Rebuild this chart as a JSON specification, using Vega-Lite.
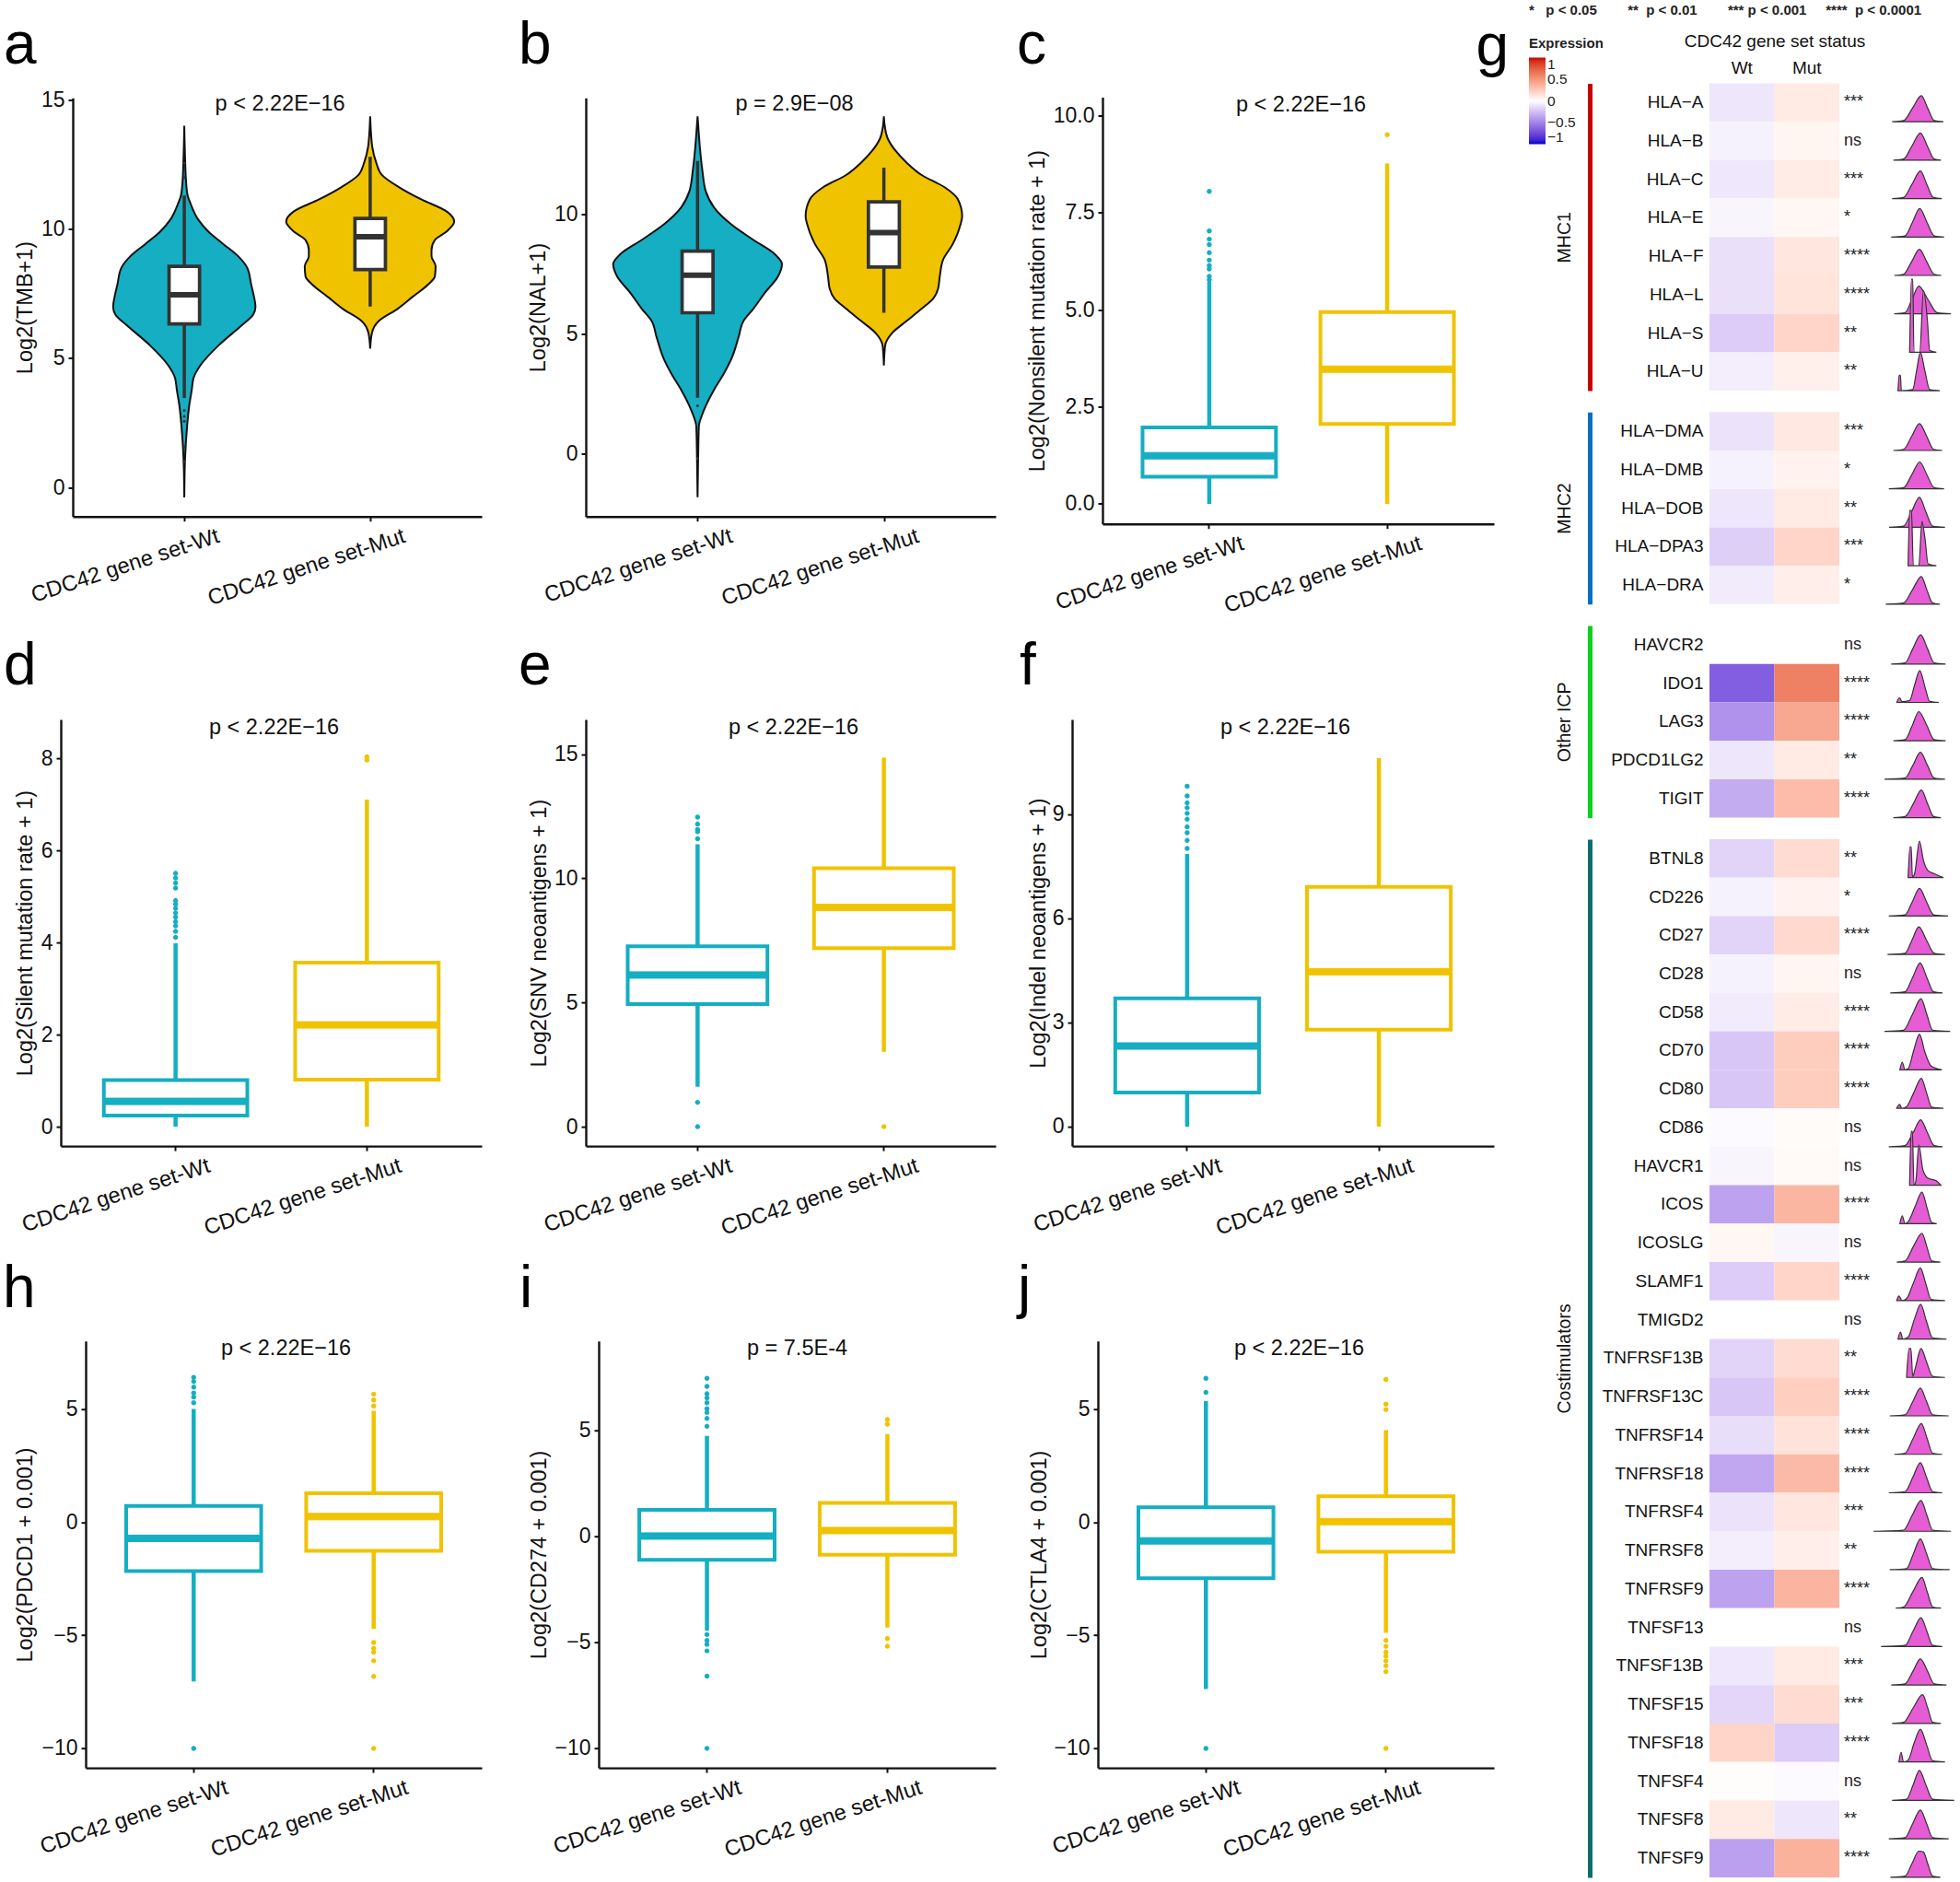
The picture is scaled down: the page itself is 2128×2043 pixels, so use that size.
{"$schema":"https://vega.github.io/schema/vega-lite/v6.json","background":"white","padding":{"left":3,"top":3.5,"right":0,"bottom":0},
"config":{"font":"Liberation Sans","view":{"stroke":null},"range":{"category":["#15AEC2","#F0C300"]},"title":{"anchor":"start","frame":"group","fontSize":64,"fontWeight":"normal","baseline":"alphabetic","color":"#000"},
"axis":{"grid":false,"domainColor":"#111","domainWidth":2.4,"tickColor":"#111","tickWidth":2,"tickSize":5,"labelFontSize":23,"titleFontSize":23.5,"titleFontWeight":"normal","labelColor":"#111","titleColor":"#111","labelOverlap":false,"labelBound":false,"labelFlush":false,"labelLimit":0},
"axisX":{"labelAngle":-18,"labelAlign":"right","labelBaseline":"top","labelOffset":33,"labelPadding":4,"labelFontSize":23.8,"titleAlign":"center","titleBaseline":"middle"},
"axisY":{"titleBaseline":"middle","labelPadding":4}},
"spacing":-20,
"resolve":{"scale":{"color":"independent","stroke":"independent"}},
"hconcat":[
{"resolve":{"scale":{"color":"independent","stroke":"independent"}},"concat":[
{"width":487,"height":478.2,"title":{"text":"a","dx":-62,"offset":8.8},
"data":{"values":[{"p":1,"b0":0.918,"b1":1.082,"q1":6.33,"med":7.46,"q3":8.56,"lo":3.46,"hi":11.3},{"p":2,"b0":1.918,"b1":2.082,"q1":8.43,"med":9.7,"q3":10.41,"lo":7.0,"hi":12.8}]},
"layer":[
{"data":{"values":[{"p":1,"y":-0.39,"x0":1,"x1":1},{"p":1,"y":1.1,"x0":0.996,"x1":1.004},{"p":1,"y":2.36,"x0":0.985,"x1":1.015},{"p":1,"y":3.14,"x0":0.974,"x1":1.026},{"p":1,"y":3.77,"x0":0.96,"x1":1.04},{"p":1,"y":4.24,"x0":0.95,"x1":1.05},{"p":1,"y":4.71,"x0":0.915,"x1":1.085},{"p":1,"y":5.5,"x0":0.815,"x1":1.185},{"p":1,"y":6.28,"x0":0.69,"x1":1.31},{"p":1,"y":6.68,"x0":0.63,"x1":1.37},{"p":1,"y":6.99,"x0":0.617,"x1":1.383},{"p":1,"y":7.38,"x0":0.625,"x1":1.375},{"p":1,"y":7.85,"x0":0.64,"x1":1.36},{"p":1,"y":8.48,"x0":0.66,"x1":1.34},{"p":1,"y":8.95,"x0":0.71,"x1":1.29},{"p":1,"y":9.42,"x0":0.79,"x1":1.21},{"p":1,"y":9.9,"x0":0.87,"x1":1.13},{"p":1,"y":10.37,"x0":0.925,"x1":1.075},{"p":1,"y":11,"x0":0.967,"x1":1.033},{"p":1,"y":11.3,"x0":0.982,"x1":1.018},{"p":1,"y":11.9,"x0":0.991,"x1":1.009},{"p":1,"y":12.56,"x0":0.995,"x1":1.005},{"p":1,"y":14,"x0":1,"x1":1},
{"p":2,"y":5.37,"x0":2,"x1":2},{"p":2,"y":5.97,"x0":1.991,"x1":2.009},{"p":2,"y":6.44,"x0":1.954,"x1":2.046},{"p":2,"y":6.91,"x0":1.853,"x1":2.147},{"p":2,"y":7.38,"x0":1.771,"x1":2.229},{"p":2,"y":7.85,"x0":1.689,"x1":2.311},{"p":2,"y":8.17,"x0":1.652,"x1":2.348},{"p":2,"y":8.56,"x0":1.648,"x1":2.352},{"p":2,"y":8.95,"x0":1.67,"x1":2.33},{"p":2,"y":9.19,"x0":1.67,"x1":2.33},{"p":2,"y":9.58,"x0":1.652,"x1":2.348},{"p":2,"y":9.9,"x0":1.59,"x1":2.41},{"p":2,"y":10.29,"x0":1.548,"x1":2.452},{"p":2,"y":10.68,"x0":1.588,"x1":2.412},{"p":2,"y":11.15,"x0":1.725,"x1":2.275},{"p":2,"y":11.62,"x0":1.844,"x1":2.156},{"p":2,"y":12.09,"x0":1.936,"x1":2.064},{"p":2,"y":12.56,"x0":1.967,"x1":2.033},{"p":2,"y":13.19,"x0":1.989,"x1":2.011},{"p":2,"y":13.66,"x0":1.995,"x1":2.005},{"p":2,"y":14.37,"x0":2,"x1":2}]},
"mark":{"type":"area","orient":"horizontal","interpolate":"monotone","stroke":"#111","strokeWidth":2},
"encoding":{"y":{"field":"y","type":"quantitative","scale":{"domain":[-1.13,15.08],"range":[470.2,15.8],"nice":false},"axis":{"title":"Log2(TMB+1)","titleX":-51.5,"offset":-13,"values":[0,5,10,15]}},"x":{"field":"x0","type":"quantitative","stack":null,"scale":{"domain":[0.4,2.6],"range":[13,457],"nice":false},"axis":{"values":[1,2],"labelExpr":"datum.value==1?'CDC42 gene set-Wt':'CDC42 gene set-Mut'","offset":-8,"title":"p < 2.22E−16","titleX":237.6,"titleY":-448}},"x2":{"field":"x1"},"color":{"field":"p","type":"nominal","legend":null}}},
{"mark":{"type":"rule","strokeWidth":3.5,"color":"#333"},"encoding":{"x":{"field":"p","type":"quantitative"},"y":{"field":"lo","type":"quantitative"},"y2":{"field":"hi"}}},
{"mark":{"type":"rect","fill":"white","stroke":"#333","strokeWidth":3.7},"encoding":{"x":{"field":"b0","type":"quantitative"},"x2":{"field":"b1"},"y":{"field":"q1","type":"quantitative"},"y2":{"field":"q3"}}},
{"mark":{"type":"rule","strokeWidth":6,"color":"#333"},"encoding":{"x":{"field":"b0","type":"quantitative"},"x2":{"field":"b1"},"y":{"field":"med","type":"quantitative"}}},
{"data":{"values":[{"p":1,"y":2.98},{"p":1,"y":2.75},{"p":1,"y":2.56},{"p":1,"y":1.57},{"p":1,"y":1.0},{"p":1,"y":12.0},{"p":1,"y":12.56}]},"mark":{"type":"circle","size":9,"color":"#333","opacity":1},"encoding":{"x":{"field":"p","type":"quantitative"},"y":{"field":"y","type":"quantitative"}}}
]},
{"width":445,"height":478.2,"title":{"text":"b","dx":-73,"offset":8.8},
"data":{"values":[{"p":1,"b0":0.917,"b1":1.083,"q1":5.89,"med":7.46,"q3":8.46,"lo":2.34,"hi":12.23},{"p":2,"b0":1.917,"b1":2.083,"q1":7.8,"med":9.24,"q3":10.52,"lo":5.89,"hi":11.95}]},
"layer":[
{"data":{"values":[{"p":1,"y":-1.81,"x0":1,"x1":1},{"p":1,"y":-0.2,"x0":0.997,"x1":1.003},{"p":1,"y":1.15,"x0":0.993,"x1":1.007},{"p":1,"y":1.66,"x0":0.974,"x1":1.026},{"p":1,"y":2.0,"x0":0.956,"x1":1.044},{"p":1,"y":2.67,"x0":0.912,"x1":1.088},{"p":1,"y":3.35,"x0":0.859,"x1":1.141},{"p":1,"y":4.03,"x0":0.815,"x1":1.185},{"p":1,"y":4.87,"x0":0.78,"x1":1.22},{"p":1,"y":5.55,"x0":0.753,"x1":1.247},{"p":1,"y":6.06,"x0":0.7,"x1":1.3},{"p":1,"y":6.73,"x0":0.638,"x1":1.362},{"p":1,"y":7.41,"x0":0.568,"x1":1.432},{"p":1,"y":7.92,"x0":0.547,"x1":1.453},{"p":1,"y":8.34,"x0":0.586,"x1":1.414},{"p":1,"y":8.93,"x0":0.7,"x1":1.3},{"p":1,"y":9.61,"x0":0.824,"x1":1.176},{"p":1,"y":10.29,"x0":0.912,"x1":1.088},{"p":1,"y":10.96,"x0":0.956,"x1":1.044},{"p":1,"y":11.81,"x0":0.974,"x1":1.026},{"p":1,"y":12.66,"x0":0.986,"x1":1.014},{"p":1,"y":13.33,"x0":0.993,"x1":1.007},{"p":1,"y":14.09,"x0":1,"x1":1},
{"p":2,"y":3.69,"x0":2,"x1":2},{"p":2,"y":4.53,"x0":1.993,"x1":2.007},{"p":2,"y":5.04,"x0":1.956,"x1":2.044},{"p":2,"y":5.55,"x0":1.877,"x1":2.123},{"p":2,"y":6.06,"x0":1.797,"x1":2.203},{"p":2,"y":6.48,"x0":1.735,"x1":2.265},{"p":2,"y":6.9,"x0":1.709,"x1":2.291},{"p":2,"y":7.41,"x0":1.7,"x1":2.3},{"p":2,"y":8.09,"x0":1.683,"x1":2.317},{"p":2,"y":8.76,"x0":1.63,"x1":2.37},{"p":2,"y":9.44,"x0":1.594,"x1":2.406},{"p":2,"y":9.93,"x0":1.58,"x1":2.42},{"p":2,"y":10.63,"x0":1.603,"x1":2.397},{"p":2,"y":11.13,"x0":1.674,"x1":2.326},{"p":2,"y":11.64,"x0":1.797,"x1":2.203},{"p":2,"y":12.15,"x0":1.877,"x1":2.123},{"p":2,"y":12.66,"x0":1.938,"x1":2.062},{"p":2,"y":13.16,"x0":1.979,"x1":2.021},{"p":2,"y":13.67,"x0":1.995,"x1":2.005},{"p":2,"y":14.09,"x0":2,"x1":2}]},
"mark":{"type":"area","orient":"horizontal","interpolate":"monotone","stroke":"#111","strokeWidth":2},
"encoding":{"y":{"field":"y","type":"quantitative","scale":{"domain":[-2.62,14.86],"range":[470.2,15.8],"nice":false},"axis":{"title":"Log2(NAL+1)","titleX":-51.5,"values":[0,5,10]}},"x":{"field":"x0","type":"quantitative","stack":null,"scale":{"domain":[0.4,2.6],"range":[0,445],"nice":false},"axis":{"values":[1,2],"labelExpr":"datum.value==1?'CDC42 gene set-Wt':'CDC42 gene set-Mut'","offset":-8,"title":"p = 2.9E−08","titleX":226,"titleY":-448}},"x2":{"field":"x1"},"color":{"field":"p","type":"nominal","legend":null}}},
{"mark":{"type":"rule","strokeWidth":3.5,"color":"#333"},"encoding":{"x":{"field":"p","type":"quantitative"},"y":{"field":"lo","type":"quantitative"},"y2":{"field":"hi"}}},
{"mark":{"type":"rect","fill":"white","stroke":"#333","strokeWidth":3.7},"encoding":{"x":{"field":"b0","type":"quantitative"},"x2":{"field":"b1"},"y":{"field":"q1","type":"quantitative"},"y2":{"field":"q3"}}},
{"mark":{"type":"rule","strokeWidth":6,"color":"#333"},"encoding":{"x":{"field":"b0","type":"quantitative"},"x2":{"field":"b1"},"y":{"field":"med","type":"quantitative"}}},
{"data":{"values":[{"p":1,"y":2.0},{"p":1,"y":-0.2}]},"mark":{"type":"circle","size":9,"color":"#333","opacity":1},"encoding":{"x":{"field":"p","type":"quantitative"},"y":{"field":"y","type":"quantitative"}}}
]},
{"width":458,"height":478.2,"title":{"text":"c","dx":-60,"offset":8.8},
"data":{"values":[{"g":"CDC42 gene set-Wt","q1":0.7,"med":1.24,"q3":1.97,"lo":0,"hi":5.72},{"g":"CDC42 gene set-Mut","q1":2.06,"med":3.47,"q3":4.94,"lo":0,"hi":8.77}]},
"encoding":{"x":{"field":"g","type":"nominal","sort":"descending","scale":{"range":[33,458],"paddingInner":0,"paddingOuter":0.1},"axis":{"title":"p < 2.22E−16","titleX":248,"titleY":-455.5}},"color":{"field":"g","type":"nominal","scale":{"domain":["CDC42 gene set-Wt","CDC42 gene set-Mut"]},"legend":null},"stroke":{"field":"g","type":"nominal","scale":{"domain":["CDC42 gene set-Wt","CDC42 gene set-Mut"]},"legend":null}},
"layer":[
{"mark":{"type":"rule","strokeWidth":4.5},"encoding":{"y":{"field":"lo","type":"quantitative","scale":{"domain":[-0.516,10.48],"range":[478.2,14.9],"nice":false},"axis":{"title":"Log2(Nonsilent mutation rate + 1)","titleX":-70.5,"offset":-33,"values":[0,2.5,5,7.5,10],"format":".1f"}},"y2":{"field":"hi"}}},
{"mark":{"type":"bar","strokeWidth":4,"width":{"band":0.75}},"encoding":{"y":{"field":"q1","type":"quantitative"},"y2":{"field":"q3"},"color":{"value":"white"}}},
{"mark":{"type":"tick","size":145,"thickness":7,"opacity":1},"encoding":{"y":{"field":"med","type":"quantitative"}}},
{"data":{"values":[{"g":"CDC42 gene set-Wt","y":8.05},{"g":"CDC42 gene set-Wt","y":7.03},{"g":"CDC42 gene set-Wt","y":6.82},{"g":"CDC42 gene set-Wt","y":6.68},{"g":"CDC42 gene set-Wt","y":6.47},{"g":"CDC42 gene set-Wt","y":6.28},{"g":"CDC42 gene set-Wt","y":6.14},{"g":"CDC42 gene set-Wt","y":6.05},{"g":"CDC42 gene set-Wt","y":5.86},{"g":"CDC42 gene set-Wt","y":5.77},{"g":"CDC42 gene set-Mut","y":9.51}]},"mark":{"type":"circle","size":12,"opacity":1},"encoding":{"y":{"field":"y","type":"quantitative"}}}
]},
{"width":487,"height":463,"title":{"text":"d","dx":-62,"offset":22},
"data":{"values":[{"g":"CDC42 gene set-Wt","q1":0.24,"med":0.55,"q3":1.01,"lo":0,"hi":3.98},{"g":"CDC42 gene set-Mut","q1":1.02,"med":2.21,"q3":3.56,"lo":0,"hi":7.1}]},
"encoding":{"x":{"field":"g","type":"nominal","sort":"descending","scale":{"range":[0,457],"paddingInner":0,"paddingOuter":0.1},"axis":{"title":"p < 2.22E−16","titleX":231,"titleY":-454.6}},"color":{"field":"g","type":"nominal","scale":{"domain":["CDC42 gene set-Wt","CDC42 gene set-Mut"]},"legend":null},"stroke":{"field":"g","type":"nominal","scale":{"domain":["CDC42 gene set-Wt","CDC42 gene set-Mut"]},"legend":null}},
"layer":[
{"mark":{"type":"rule","strokeWidth":4.5},"encoding":{"y":{"field":"lo","type":"quantitative","scale":{"domain":[-0.42,8.84],"range":[463,0],"nice":false},"axis":{"title":"Log2(Silent mutation rate + 1)","titleX":-38.5,"values":[0,2,4,6,8]}},"y2":{"field":"hi"}}},
{"mark":{"type":"bar","strokeWidth":4,"width":{"band":0.75}},"encoding":{"y":{"field":"q1","type":"quantitative"},"y2":{"field":"q3"},"color":{"value":"white"}}},
{"mark":{"type":"tick","size":156,"thickness":7,"opacity":1},"encoding":{"y":{"field":"med","type":"quantitative"}}},
{"data":{"values":[{"g":"CDC42 gene set-Wt","y":5.5},{"g":"CDC42 gene set-Wt","y":5.4},{"g":"CDC42 gene set-Wt","y":5.29},{"g":"CDC42 gene set-Wt","y":5.18},{"g":"CDC42 gene set-Wt","y":4.91},{"g":"CDC42 gene set-Wt","y":4.83},{"g":"CDC42 gene set-Wt","y":4.74},{"g":"CDC42 gene set-Wt","y":4.64},{"g":"CDC42 gene set-Wt","y":4.55},{"g":"CDC42 gene set-Wt","y":4.45},{"g":"CDC42 gene set-Wt","y":4.36},{"g":"CDC42 gene set-Wt","y":4.24},{"g":"CDC42 gene set-Wt","y":4.11},{"g":"CDC42 gene set-Mut","y":8.03},{"g":"CDC42 gene set-Mut","y":7.96}]},"mark":{"type":"circle","size":12,"opacity":1},"encoding":{"y":{"field":"y","type":"quantitative"}}}
]},
{"width":445,"height":463,"title":{"text":"e","dx":-73,"offset":22},
"data":{"values":[{"g":"CDC42 gene set-Wt","q1":4.94,"med":6.11,"q3":7.27,"lo":1.61,"hi":11.38},{"g":"CDC42 gene set-Mut","q1":7.19,"med":8.83,"q3":10.41,"lo":3.02,"hi":14.86}]},
"encoding":{"x":{"field":"g","type":"nominal","sort":"descending","scale":{"range":[0,445],"paddingInner":0,"paddingOuter":0.1},"axis":{"title":"p < 2.22E−16","titleX":225,"titleY":-454.6}},"color":{"field":"g","type":"nominal","scale":{"domain":["CDC42 gene set-Wt","CDC42 gene set-Mut"]},"legend":null},"stroke":{"field":"g","type":"nominal","scale":{"domain":["CDC42 gene set-Wt","CDC42 gene set-Mut"]},"legend":null}},
"layer":[
{"mark":{"type":"rule","strokeWidth":4.5},"encoding":{"y":{"field":"lo","type":"quantitative","scale":{"domain":[-0.78,16.4],"range":[463,0],"nice":false},"axis":{"title":"Log2(SNV neoantigens + 1)","titleX":-51,"values":[0,5,10,15]}},"y2":{"field":"hi"}}},
{"mark":{"type":"bar","strokeWidth":4,"width":{"band":0.75}},"encoding":{"y":{"field":"q1","type":"quantitative"},"y2":{"field":"q3"},"color":{"value":"white"}}},
{"mark":{"type":"tick","size":152,"thickness":7,"opacity":1},"encoding":{"y":{"field":"med","type":"quantitative"}}},
{"data":{"values":[{"g":"CDC42 gene set-Wt","y":0.98},{"g":"CDC42 gene set-Wt","y":0},{"g":"CDC42 gene set-Wt","y":11.6},{"g":"CDC42 gene set-Wt","y":11.88},{"g":"CDC42 gene set-Wt","y":11.97},{"g":"CDC42 gene set-Wt","y":12.19},{"g":"CDC42 gene set-Wt","y":12.47},{"g":"CDC42 gene set-Mut","y":0}]},"mark":{"type":"circle","size":12,"opacity":1},"encoding":{"y":{"field":"y","type":"quantitative"}}}
]},
{"width":458,"height":463,"title":{"text":"f","dx":-57,"offset":22},
"data":{"values":[{"g":"CDC42 gene set-Wt","q1":0.98,"med":2.32,"q3":3.69,"lo":0,"hi":7.85},{"g":"CDC42 gene set-Mut","q1":2.79,"med":4.46,"q3":6.9,"lo":0,"hi":10.61}]},
"encoding":{"x":{"field":"g","type":"nominal","sort":"descending","scale":{"range":[0,458],"paddingInner":0,"paddingOuter":0.1},"axis":{"title":"p < 2.22E−16","titleX":231,"titleY":-454.6}},"color":{"field":"g","type":"nominal","scale":{"domain":["CDC42 gene set-Wt","CDC42 gene set-Mut"]},"legend":null},"stroke":{"field":"g","type":"nominal","scale":{"domain":["CDC42 gene set-Wt","CDC42 gene set-Mut"]},"legend":null}},
"layer":[
{"mark":{"type":"rule","strokeWidth":4.5},"encoding":{"y":{"field":"lo","type":"quantitative","scale":{"domain":[-0.56,11.72],"range":[463,0],"nice":false},"axis":{"title":"Log2(Indel neoantigens + 1)","titleX":-36.5,"values":[0,3,6,9]}},"y2":{"field":"hi"}}},
{"mark":{"type":"bar","strokeWidth":4,"width":{"band":0.75}},"encoding":{"y":{"field":"q1","type":"quantitative"},"y2":{"field":"q3"},"color":{"value":"white"}}},
{"mark":{"type":"tick","size":156,"thickness":7,"opacity":1},"encoding":{"y":{"field":"med","type":"quantitative"}}},
{"data":{"values":[{"g":"CDC42 gene set-Wt","y":9.8},{"g":"CDC42 gene set-Wt","y":9.52},{"g":"CDC42 gene set-Wt","y":9.32},{"g":"CDC42 gene set-Wt","y":9.18},{"g":"CDC42 gene set-Wt","y":9.02},{"g":"CDC42 gene set-Wt","y":8.85},{"g":"CDC42 gene set-Wt","y":8.63},{"g":"CDC42 gene set-Wt","y":8.46},{"g":"CDC42 gene set-Wt","y":8.24},{"g":"CDC42 gene set-Wt","y":8.01}]},"mark":{"type":"circle","size":12,"opacity":1},"encoding":{"y":{"field":"y","type":"quantitative"}}}
]},
{"width":487,"height":463.4,"title":{"text":"h","dx":-63,"offset":19.5},
"data":{"values":[{"g":"CDC42 gene set-Wt","q1":-2.17,"med":-0.72,"q3":0.71,"lo":-7.04,"hi":5.0},{"g":"CDC42 gene set-Mut","q1":-1.27,"med":0.24,"q3":1.27,"lo":-4.72,"hi":4.92}]},
"encoding":{"x":{"field":"g","type":"nominal","sort":"descending","scale":{"range":[27,457],"paddingInner":0,"paddingOuter":0.1},"axis":{"title":"p < 2.22E−16","titleX":244,"titleY":-455.3}},"color":{"field":"g","type":"nominal","scale":{"domain":["CDC42 gene set-Wt","CDC42 gene set-Mut"]},"legend":null},"stroke":{"field":"g","type":"nominal","scale":{"domain":["CDC42 gene set-Wt","CDC42 gene set-Mut"]},"legend":null}},
"layer":[
{"mark":{"type":"rule","strokeWidth":4.5},"encoding":{"y":{"field":"lo","type":"quantitative","scale":{"domain":[-10.86,8.0],"range":[463.4,0],"nice":false},"axis":{"title":"Log2(PDCD1 + 0.001)","titleX":-65.5,"offset":-27,"values":[-10,-5,0,5]}},"y2":{"field":"hi"}}},
{"mark":{"type":"bar","strokeWidth":4,"width":{"band":0.75}},"encoding":{"y":{"field":"q1","type":"quantitative"},"y2":{"field":"q3"},"color":{"value":"white"}}},
{"mark":{"type":"tick","size":147,"thickness":7,"opacity":1},"encoding":{"y":{"field":"med","type":"quantitative"}}},
{"data":{"values":[{"g":"CDC42 gene set-Wt","y":-10},{"g":"CDC42 gene set-Wt","y":6.39},{"g":"CDC42 gene set-Wt","y":6.21},{"g":"CDC42 gene set-Wt","y":5.96},{"g":"CDC42 gene set-Wt","y":5.7},{"g":"CDC42 gene set-Wt","y":5.52},{"g":"CDC42 gene set-Wt","y":5.27},{"g":"CDC42 gene set-Mut","y":5.65},{"g":"CDC42 gene set-Mut","y":5.39},{"g":"CDC42 gene set-Mut","y":5.13},{"g":"CDC42 gene set-Mut","y":-5.32},{"g":"CDC42 gene set-Mut","y":-5.58},{"g":"CDC42 gene set-Mut","y":-5.75},{"g":"CDC42 gene set-Mut","y":-6.13},{"g":"CDC42 gene set-Mut","y":-6.82},{"g":"CDC42 gene set-Mut","y":-10}]},"mark":{"type":"circle","size":12,"opacity":1},"encoding":{"y":{"field":"y","type":"quantitative"}}}
]},
{"width":445,"height":463.4,"title":{"text":"i","dx":-72,"offset":19.5},
"data":{"values":[{"g":"CDC42 gene set-Wt","q1":-1.12,"med":0,"q3":1.23,"lo":-4.46,"hi":4.72},{"g":"CDC42 gene set-Mut","q1":-0.88,"med":0.26,"q3":1.56,"lo":-4.31,"hi":4.81}]},
"encoding":{"x":{"field":"g","type":"nominal","sort":"descending","scale":{"range":[14,445],"paddingInner":0,"paddingOuter":0.1},"axis":{"title":"p = 7.5E-4","titleX":229,"titleY":-455.3}},"color":{"field":"g","type":"nominal","scale":{"domain":["CDC42 gene set-Wt","CDC42 gene set-Mut"]},"legend":null},"stroke":{"field":"g","type":"nominal","scale":{"domain":["CDC42 gene set-Wt","CDC42 gene set-Mut"]},"legend":null}},
"layer":[
{"mark":{"type":"rule","strokeWidth":4.5},"encoding":{"y":{"field":"lo","type":"quantitative","scale":{"domain":[-10.92,9.19],"range":[463.4,0],"nice":false},"axis":{"title":"Log2(CD274 + 0.001)","titleX":-64.5,"offset":-14,"values":[-10,-5,0,5]}},"y2":{"field":"hi"}}},
{"mark":{"type":"bar","strokeWidth":4,"width":{"band":0.75}},"encoding":{"y":{"field":"q1","type":"quantitative"},"y2":{"field":"q3"},"color":{"value":"white"}}},
{"mark":{"type":"tick","size":147,"thickness":7,"opacity":1},"encoding":{"y":{"field":"med","type":"quantitative"}}},
{"data":{"values":[{"g":"CDC42 gene set-Wt","y":-10},{"g":"CDC42 gene set-Wt","y":-6.6},{"g":"CDC42 gene set-Wt","y":-5.41},{"g":"CDC42 gene set-Wt","y":-5.1},{"g":"CDC42 gene set-Wt","y":-4.92},{"g":"CDC42 gene set-Wt","y":-4.64},{"g":"CDC42 gene set-Wt","y":7.43},{"g":"CDC42 gene set-Wt","y":7.05},{"g":"CDC42 gene set-Wt","y":6.7},{"g":"CDC42 gene set-Wt","y":6.51},{"g":"CDC42 gene set-Wt","y":6.28},{"g":"CDC42 gene set-Wt","y":6.0},{"g":"CDC42 gene set-Wt","y":5.82},{"g":"CDC42 gene set-Wt","y":5.54},{"g":"CDC42 gene set-Wt","y":5.17},{"g":"CDC42 gene set-Mut","y":5.49},{"g":"CDC42 gene set-Mut","y":5.27},{"g":"CDC42 gene set-Mut","y":-4.83},{"g":"CDC42 gene set-Mut","y":-5.19}]},"mark":{"type":"circle","size":12,"opacity":1},"encoding":{"y":{"field":"y","type":"quantitative"}}}
]},
{"width":458,"height":463.4,"title":{"text":"j","dx":-59,"offset":19.5},
"data":{"values":[{"g":"CDC42 gene set-Wt","q1":-2.48,"med":-0.83,"q3":0.65,"lo":-7.38,"hi":5.35},{"g":"CDC42 gene set-Mut","q1":-1.31,"med":0.02,"q3":1.14,"lo":-4.89,"hi":4.06}]},
"encoding":{"x":{"field":"g","type":"nominal","sort":"descending","scale":{"range":[28,458],"paddingInner":0,"paddingOuter":0.1},"axis":{"title":"p < 2.22E−16","titleX":246,"titleY":-455.3}},"color":{"field":"g","type":"nominal","scale":{"domain":["CDC42 gene set-Wt","CDC42 gene set-Mut"]},"legend":null},"stroke":{"field":"g","type":"nominal","scale":{"domain":["CDC42 gene set-Wt","CDC42 gene set-Mut"]},"legend":null}},
"layer":[
{"mark":{"type":"rule","strokeWidth":4.5},"encoding":{"y":{"field":"lo","type":"quantitative","scale":{"domain":[-10.86,8.0],"range":[463.4,0],"nice":false},"axis":{"title":"Log2(CTLA4 + 0.001)","titleX":-64,"offset":-28,"values":[-10,-5,0,5]}},"y2":{"field":"hi"}}},
{"mark":{"type":"bar","strokeWidth":4,"width":{"band":0.75}},"encoding":{"y":{"field":"q1","type":"quantitative"},"y2":{"field":"q3"},"color":{"value":"white"}}},
{"mark":{"type":"tick","size":147,"thickness":7,"opacity":1},"encoding":{"y":{"field":"med","type":"quantitative"}}},
{"data":{"values":[{"g":"CDC42 gene set-Wt","y":-10},{"g":"CDC42 gene set-Wt","y":5.73},{"g":"CDC42 gene set-Wt","y":6.35},{"g":"CDC42 gene set-Mut","y":6.3},{"g":"CDC42 gene set-Mut","y":5.21},{"g":"CDC42 gene set-Mut","y":4.97},{"g":"CDC42 gene set-Mut","y":-5.23},{"g":"CDC42 gene set-Mut","y":-5.49},{"g":"CDC42 gene set-Mut","y":-5.75},{"g":"CDC42 gene set-Mut","y":-5.92},{"g":"CDC42 gene set-Mut","y":-6.13},{"g":"CDC42 gene set-Mut","y":-6.35},{"g":"CDC42 gene set-Mut","y":-6.61},{"g":"CDC42 gene set-Mut","y":-10}]},"mark":{"type":"circle","size":12,"opacity":1},"encoding":{"y":{"field":"y","type":"quantitative"}}}
]}
],"columns":3,"bounds":"flush","spacing":{"column":83,"row":211.6}},
{"concat":[
{"width":141,"height":333.6,
"title":{"text":"*\u00a0\u00a0\u00a0p < 0.05\u00a0\u00a0\u00a0\u00a0\u00a0\u00a0\u00a0\u00a0**\u00a0\u00a0p < 0.01\u00a0\u00a0\u00a0\u00a0\u00a0\u00a0\u00a0\u00a0***\u00a0p < 0.001\u00a0\u00a0\u00a0\u00a0\u00a0****\u00a0\u00a0p < 0.0001","fontSize":15,"fontWeight":"bold","dx":-196,"offset":17,"color":"#222"},
"data":{"values":[{"gene":"HLA−A","s":"Wt","v":-0.1},{"gene":"HLA−A","s":"Mut","v":0.1},{"gene":"HLA−B","s":"Wt","v":-0.05},{"gene":"HLA−B","s":"Mut","v":0.05},{"gene":"HLA−C","s":"Wt","v":-0.09},{"gene":"HLA−C","s":"Mut","v":0.09},{"gene":"HLA−E","s":"Wt","v":-0.04},{"gene":"HLA−E","s":"Mut","v":0.04},{"gene":"HLA−F","s":"Wt","v":-0.12},{"gene":"HLA−F","s":"Mut","v":0.12},{"gene":"HLA−L","s":"Wt","v":-0.12},{"gene":"HLA−L","s":"Mut","v":0.13},{"gene":"HLA−S","s":"Wt","v":-0.2},{"gene":"HLA−S","s":"Mut","v":0.2},{"gene":"HLA−U","s":"Wt","v":-0.07},{"gene":"HLA−U","s":"Mut","v":0.07}]},
"mark":"rect",
"encoding":{"x":{"field":"s","type":"nominal","sort":["Wt","Mut"],"scale":{"paddingInner":0,"paddingOuter":0},"axis":{"orient":"top","title":"CDC42 gene set status","titleFontSize":19,"titlePadding":20,"labelFontSize":19,"labelAngle":0,"labelAlign":"center","labelBaseline":"bottom","labelOffset":0,"labelPadding":7,"tickSize":0,"domain":false,"ticks":false}},
"y":{"field":"gene","type":"nominal","sort":null,"scale":{"paddingInner":0,"paddingOuter":0},"axis":{"title":"MHC1","titleFontSize":19.5,"titleX":-28,"offset":130,"domainColor":"#C80000","domainWidth":5,"ticks":false,"tickSize":0,"labelPadding":-123,"labelAlign":"right","labelFontSize":19}},
"color":{"field":"v","type":"quantitative","scale":{"domain":[-1,0,1],"range":["#0000CC","#FFFFFF","#CC0000"],"interpolate":"lab"},"legend":{"orient":"none","legendX":-196,"legendY":-51,"title":"Expression","titleFontWeight":"bold","titleFontSize":15,"titlePadding":8,"labelFontSize":15.5,"format":".1~f","gradientLength":94,"gradientThickness":18,"values":[1,0.5,0,-0.5,-1],"titleColor":"#222","labelColor":"#222"}}}},
{"width":125,"height":333.6,"title":{"text":"g","dx":-397.5,"offset":6.8},
"layer":[
{"data":{"values":[{"row":1,"x":24.3,"t":1},{"row":1,"x":36.7,"t":0.97},{"row":1,"x":46.3,"t":0.65},{"row":1,"x":56,"t":0.32},{"row":1,"x":63,"t":0.65},{"row":1,"x":70,"t":0.97},{"row":1,"x":80,"t":1},
{"row":2,"x":25.7,"t":2},{"row":2,"x":36.7,"t":1.97},{"row":2,"x":45.8,"t":1.63},{"row":2,"x":55,"t":1.29},{"row":2,"x":62.5,"t":1.63},{"row":2,"x":70,"t":1.97},{"row":2,"x":77.3,"t":2},
{"row":3,"x":24.3,"t":3},{"row":3,"x":36.7,"t":2.97},{"row":3,"x":45.8,"t":2.63},{"row":3,"x":55,"t":2.28},{"row":3,"x":62,"t":2.63},{"row":3,"x":69,"t":2.97},{"row":3,"x":78.3,"t":3},
{"row":4,"x":23.3,"t":4},{"row":4,"x":38.3,"t":3.97},{"row":4,"x":46.3,"t":3.62},{"row":4,"x":54.3,"t":3.26},{"row":4,"x":62.2,"t":3.62},{"row":4,"x":70,"t":3.97},{"row":4,"x":80.7,"t":4},
{"row":5,"x":26.7,"t":5},{"row":5,"x":36.7,"t":4.97},{"row":5,"x":45.3,"t":4.65},{"row":5,"x":54,"t":4.32},{"row":5,"x":62,"t":4.65},{"row":5,"x":70,"t":4.97},{"row":5,"x":77.7,"t":5},
{"row":6,"x":26.7,"t":6},{"row":6,"x":38.3,"t":5.97},{"row":6,"x":45.8,"t":5.63},{"row":6,"x":53.3,"t":5.28},{"row":6,"x":63.3,"t":5.63},{"row":6,"x":73.3,"t":5.97},{"row":6,"x":88.3,"t":6},
{"row":7,"x":43.3,"t":7},{"row":7,"x":45.3,"t":5.1},{"row":7,"x":46.7,"t":5.1},{"row":7,"x":48,"t":7},{"row":7,"x":54.3,"t":7},{"row":7,"x":58.3,"t":5.4},{"row":7,"x":62.7,"t":6.2},{"row":7,"x":65,"t":6.95},{"row":7,"x":72.3,"t":7},
{"row":8,"x":30.7,"t":8},{"row":8,"x":32,"t":7.6},{"row":8,"x":33.3,"t":7.6},{"row":8,"x":34.3,"t":8},{"row":8,"x":46.7,"t":7.97},{"row":8,"x":50.7,"t":7.5},{"row":8,"x":55,"t":7.0},{"row":8,"x":60,"t":7.5},{"row":8,"x":65,"t":7.97},{"row":8,"x":76,"t":8}]},
"mark":{"type":"area","orient":"vertical","interpolate":"monotone","fill":"#E65CD4","stroke":"#333","strokeWidth":1.2},
"encoding":{"x":{"field":"x","type":"quantitative","scale":{"domain":[-30,95],"nice":false},"axis":null},"y":{"field":"row","type":"quantitative","stack":null,"scale":{"domain":[8,0],"nice":false},"axis":null},"y2":{"field":"t"},"detail":{"field":"row"}}},
{"data":{"values":[{"gene":"HLA−A","y":0.5,"sig":"***"},{"gene":"HLA−B","y":1.5,"sig":"ns"},{"gene":"HLA−C","y":2.5,"sig":"***"},{"gene":"HLA−E","y":3.5,"sig":"*"},{"gene":"HLA−F","y":4.5,"sig":"****"},{"gene":"HLA−L","y":5.5,"sig":"****"},{"gene":"HLA−S","y":6.5,"sig":"**"},{"gene":"HLA−U","y":7.5,"sig":"**"}]},
"mark":{"type":"text","align":"left","baseline":"middle","fontSize":18,"color":"#222"},"encoding":{"x":{"datum":-28},"y":{"field":"y","type":"quantitative"},"text":{"field":"sig"}}}
]},
{"width":141,"height":208.5,
"data":{"values":[{"gene":"HLA−DMA","s":"Wt","v":-0.11},{"gene":"HLA−DMA","s":"Mut","v":0.11},{"gene":"HLA−DMB","s":"Wt","v":-0.05},{"gene":"HLA−DMB","s":"Mut","v":0.06},{"gene":"HLA−DOB","s":"Wt","v":-0.1},{"gene":"HLA−DOB","s":"Mut","v":0.1},{"gene":"HLA−DPA3","s":"Wt","v":-0.19},{"gene":"HLA−DPA3","s":"Mut","v":0.2},{"gene":"HLA−DRA","s":"Wt","v":-0.08},{"gene":"HLA−DRA","s":"Mut","v":0.08}]},
"mark":"rect",
"encoding":{"x":{"field":"s","type":"nominal","sort":["Wt","Mut"],"scale":{"paddingInner":0,"paddingOuter":0},"axis":null},
"y":{"field":"gene","type":"nominal","sort":null,"scale":{"paddingInner":0,"paddingOuter":0},"axis":{"title":"MHC2","titleFontSize":19.5,"titleX":-28,"offset":130,"domainColor":"#0B6FC4","domainWidth":5,"ticks":false,"tickSize":0,"labelPadding":-123,"labelAlign":"right","labelFontSize":19}},
"color":{"field":"v","type":"quantitative","scale":{"domain":[-1,0,1],"range":["#0000CC","#FFFFFF","#CC0000"],"interpolate":"lab"},"legend":null}}},
{"width":125,"height":208.5,
"layer":[
{"data":{"values":[{"row":1,"x":25.7,"t":1},{"row":1,"x":36.7,"t":0.97},{"row":1,"x":45.3,"t":0.64},{"row":1,"x":54,"t":0.3},{"row":1,"x":62,"t":0.64},{"row":1,"x":69.3,"t":0.97},{"row":1,"x":78.7,"t":1},
{"row":2,"x":20.7,"t":2},{"row":2,"x":36.7,"t":1.97},{"row":2,"x":45.5,"t":1.64},{"row":2,"x":54.3,"t":1.3},{"row":2,"x":62.2,"t":1.64},{"row":2,"x":70,"t":1.97},{"row":2,"x":80.7,"t":2},
{"row":3,"x":21,"t":3},{"row":3,"x":36.7,"t":2.97},{"row":3,"x":45.3,"t":2.6},{"row":3,"x":54,"t":2.22},{"row":3,"x":61,"t":2.6},{"row":3,"x":68.3,"t":2.97},{"row":3,"x":81.7,"t":3},
{"row":4,"x":41.7,"t":4},{"row":4,"x":43.3,"t":2.56},{"row":4,"x":45.3,"t":2.56},{"row":4,"x":47.3,"t":4},{"row":4,"x":53.3,"t":4},{"row":4,"x":56.7,"t":2.85},{"row":4,"x":60,"t":3.3},{"row":4,"x":63.3,"t":3.95},{"row":4,"x":72.3,"t":4},
{"row":5,"x":17.3,"t":5},{"row":5,"x":36.7,"t":4.97},{"row":5,"x":46.3,"t":4.63},{"row":5,"x":56,"t":4.28},{"row":5,"x":62,"t":4.63},{"row":5,"x":68.3,"t":4.97},{"row":5,"x":76,"t":5}]},
"mark":{"type":"area","orient":"vertical","interpolate":"monotone","fill":"#E65CD4","stroke":"#333","strokeWidth":1.2},
"encoding":{"x":{"field":"x","type":"quantitative","scale":{"domain":[-30,95],"nice":false},"axis":null},"y":{"field":"row","type":"quantitative","stack":null,"scale":{"domain":[5,0],"nice":false},"axis":null},"y2":{"field":"t"},"detail":{"field":"row"}}},
{"data":{"values":[{"gene":"HLA−DMA","y":0.5,"sig":"***"},{"gene":"HLA−DMB","y":1.5,"sig":"*"},{"gene":"HLA−DOB","y":2.5,"sig":"**"},{"gene":"HLA−DPA3","y":3.5,"sig":"***"},{"gene":"HLA−DRA","y":4.5,"sig":"*"}]},
"mark":{"type":"text","align":"left","baseline":"middle","fontSize":18,"color":"#222"},"encoding":{"x":{"datum":-28},"y":{"field":"y","type":"quantitative"},"text":{"field":"sig"}}}
]},
{"width":141,"height":208.5,
"data":{"values":[{"gene":"HAVCR2","s":"Wt","v":0},{"gene":"HAVCR2","s":"Mut","v":0},{"gene":"IDO1","s":"Wt","v":-0.66},{"gene":"IDO1","s":"Mut","v":0.6},{"gene":"LAG3","s":"Wt","v":-0.44},{"gene":"LAG3","s":"Mut","v":0.42},{"gene":"PDCD1LG2","s":"Wt","v":-0.1},{"gene":"PDCD1LG2","s":"Mut","v":0.1},{"gene":"TIGIT","s":"Wt","v":-0.33},{"gene":"TIGIT","s":"Mut","v":0.32}]},
"mark":"rect",
"encoding":{"x":{"field":"s","type":"nominal","sort":["Wt","Mut"],"scale":{"paddingInner":0,"paddingOuter":0},"axis":null},
"y":{"field":"gene","type":"nominal","sort":null,"scale":{"paddingInner":0,"paddingOuter":0},"axis":{"title":"Other ICP","titleFontSize":19.5,"titleX":-28,"offset":130,"domainColor":"#0AD21A","domainWidth":5,"ticks":false,"tickSize":0,"labelPadding":-123,"labelAlign":"right","labelFontSize":19}},
"color":{"field":"v","type":"quantitative","scale":{"domain":[-1,0,1],"range":["#0000CC","#FFFFFF","#CC0000"],"interpolate":"lab"},"legend":null}}},
{"width":125,"height":208.5,
"layer":[
{"data":{"values":[{"row":1,"x":23.3,"t":1},{"row":1,"x":38.3,"t":0.97},{"row":1,"x":46.8,"t":0.6},{"row":1,"x":55.3,"t":0.24},{"row":1,"x":62.7,"t":0.6},{"row":1,"x":70,"t":0.97},{"row":1,"x":82.3,"t":1},
{"row":2,"x":29.3,"t":2},{"row":2,"x":32.3,"t":1.88},{"row":2,"x":35,"t":1.98},{"row":2,"x":43.3,"t":1.95},{"row":2,"x":48.7,"t":1.55},{"row":2,"x":54.3,"t":1.17},{"row":2,"x":60,"t":1.6},{"row":2,"x":65,"t":1.97},{"row":2,"x":75,"t":2},
{"row":3,"x":25.7,"t":3},{"row":3,"x":38.3,"t":2.97},{"row":3,"x":46.2,"t":2.6},{"row":3,"x":53.3,"t":2.24},{"row":3,"x":62,"t":2.6},{"row":3,"x":70,"t":2.97},{"row":3,"x":82.3,"t":3},
{"row":4,"x":16,"t":4},{"row":4,"x":38.3,"t":3.97},{"row":4,"x":46.8,"t":3.64},{"row":4,"x":55,"t":3.3},{"row":4,"x":62.7,"t":3.64},{"row":4,"x":70,"t":3.97},{"row":4,"x":81.7,"t":4},
{"row":5,"x":25.7,"t":5},{"row":5,"x":38.3,"t":4.97},{"row":5,"x":47.5,"t":4.63},{"row":5,"x":56,"t":4.28},{"row":5,"x":62.7,"t":4.63},{"row":5,"x":69.3,"t":4.97},{"row":5,"x":77.3,"t":5}]},
"mark":{"type":"area","orient":"vertical","interpolate":"monotone","fill":"#E65CD4","stroke":"#333","strokeWidth":1.2},
"encoding":{"x":{"field":"x","type":"quantitative","scale":{"domain":[-30,95],"nice":false},"axis":null},"y":{"field":"row","type":"quantitative","stack":null,"scale":{"domain":[5,0],"nice":false},"axis":null},"y2":{"field":"t"},"detail":{"field":"row"}}},
{"data":{"values":[{"gene":"HAVCR2","y":0.5,"sig":"ns"},{"gene":"IDO1","y":1.5,"sig":"****"},{"gene":"LAG3","y":2.5,"sig":"****"},{"gene":"PDCD1LG2","y":3.5,"sig":"**"},{"gene":"TIGIT","y":4.5,"sig":"****"}]},
"mark":{"type":"text","align":"left","baseline":"middle","fontSize":18,"color":"#222"},"encoding":{"x":{"datum":-28},"y":{"field":"y","type":"quantitative"},"text":{"field":"sig"}}}
]},
{"width":141,"height":1127,
"data":{"values":[{"gene":"BTNL8","s":"Wt","v":-0.17},{"gene":"BTNL8","s":"Mut","v":0.17},{"gene":"CD226","s":"Wt","v":-0.05},{"gene":"CD226","s":"Mut","v":0.06},{"gene":"CD27","s":"Wt","v":-0.17},{"gene":"CD27","s":"Mut","v":0.18},{"gene":"CD28","s":"Wt","v":-0.05},{"gene":"CD28","s":"Mut","v":0.05},{"gene":"CD58","s":"Wt","v":-0.08},{"gene":"CD58","s":"Mut","v":0.09},{"gene":"CD70","s":"Wt","v":-0.22},{"gene":"CD70","s":"Mut","v":0.24},{"gene":"CD80","s":"Wt","v":-0.22},{"gene":"CD80","s":"Mut","v":0.24},{"gene":"CD86","s":"Wt","v":-0.02},{"gene":"CD86","s":"Mut","v":0.02},{"gene":"HAVCR1","s":"Wt","v":-0.04},{"gene":"HAVCR1","s":"Mut","v":0.03},{"gene":"ICOS","s":"Wt","v":-0.37},{"gene":"ICOS","s":"Mut","v":0.35},{"gene":"ICOSLG","s":"Wt","v":0.04},{"gene":"ICOSLG","s":"Mut","v":-0.04},{"gene":"SLAMF1","s":"Wt","v":-0.2},{"gene":"SLAMF1","s":"Mut","v":0.2},{"gene":"TMIGD2","s":"Wt","v":0},{"gene":"TMIGD2","s":"Mut","v":0},{"gene":"TNFRSF13B","s":"Wt","v":-0.17},{"gene":"TNFRSF13B","s":"Mut","v":0.17},{"gene":"TNFRSF13C","s":"Wt","v":-0.22},{"gene":"TNFRSF13C","s":"Mut","v":0.23},{"gene":"TNFRSF14","s":"Wt","v":-0.13},{"gene":"TNFRSF14","s":"Mut","v":0.14},{"gene":"TNFRSF18","s":"Wt","v":-0.35},{"gene":"TNFRSF18","s":"Mut","v":0.33},{"gene":"TNFRSF4","s":"Wt","v":-0.11},{"gene":"TNFRSF4","s":"Mut","v":0.12},{"gene":"TNFRSF8","s":"Wt","v":-0.07},{"gene":"TNFRSF8","s":"Mut","v":0.08},{"gene":"TNFRSF9","s":"Wt","v":-0.37},{"gene":"TNFRSF9","s":"Mut","v":0.36},{"gene":"TNFSF13","s":"Wt","v":0},{"gene":"TNFSF13","s":"Mut","v":0},{"gene":"TNFSF13B","s":"Wt","v":-0.09},{"gene":"TNFSF13B","s":"Mut","v":0.1},{"gene":"TNFSF15","s":"Wt","v":-0.16},{"gene":"TNFSF15","s":"Mut","v":0.17},{"gene":"TNFSF18","s":"Wt","v":0.2},{"gene":"TNFSF18","s":"Mut","v":-0.2},{"gene":"TNFSF4","s":"Wt","v":0.01},{"gene":"TNFSF4","s":"Mut","v":-0.02},{"gene":"TNFSF8","s":"Wt","v":0.1},{"gene":"TNFSF8","s":"Mut","v":-0.1},{"gene":"TNFSF9","s":"Wt","v":-0.38},{"gene":"TNFSF9","s":"Mut","v":0.37}]},
"mark":"rect",
"encoding":{"x":{"field":"s","type":"nominal","sort":["Wt","Mut"],"scale":{"paddingInner":0,"paddingOuter":0},"axis":null},
"y":{"field":"gene","type":"nominal","sort":null,"scale":{"paddingInner":0,"paddingOuter":0},"axis":{"title":"Costimulators","titleFontSize":19.5,"titleX":-28,"offset":130,"domainColor":"#0D6E6E","domainWidth":5,"ticks":false,"tickSize":0,"labelPadding":-123,"labelAlign":"right","labelFontSize":19}},
"color":{"field":"v","type":"quantitative","scale":{"domain":[-1,0,1],"range":["#0000CC","#FFFFFF","#CC0000"],"interpolate":"lab"},"legend":null}}},
{"width":125,"height":1127,
"layer":[
{"data":{"values":[{"row":1,"x":41.7,"t":1},{"row":1,"x":43.7,"t":0.2},{"row":1,"x":45,"t":0.2},{"row":1,"x":46.3,"t":0.98},{"row":1,"x":48.7,"t":0.9},{"row":1,"x":54,"t":0.05},{"row":1,"x":58.3,"t":0.55},{"row":1,"x":63.3,"t":0.82},{"row":1,"x":70,"t":0.9},{"row":1,"x":80,"t":1},
{"row":2,"x":20.7,"t":2},{"row":2,"x":38.3,"t":1.97},{"row":2,"x":46.2,"t":1.63},{"row":2,"x":54,"t":1.28},{"row":2,"x":61.7,"t":1.63},{"row":2,"x":69.3,"t":1.97},{"row":2,"x":85,"t":2},
{"row":3,"x":19.3,"t":3},{"row":3,"x":38.3,"t":2.97},{"row":3,"x":45.8,"t":2.63},{"row":3,"x":53.3,"t":2.28},{"row":3,"x":61.7,"t":2.63},{"row":3,"x":70,"t":2.97},{"row":3,"x":81.7,"t":3},
{"row":4,"x":22.3,"t":4},{"row":4,"x":38.3,"t":3.97},{"row":4,"x":46.5,"t":3.6},{"row":4,"x":54.7,"t":3.22},{"row":4,"x":62,"t":3.6},{"row":4,"x":69.3,"t":3.97},{"row":4,"x":79,"t":4},
{"row":5,"x":16,"t":5},{"row":5,"x":36.7,"t":4.97},{"row":5,"x":46.3,"t":4.56},{"row":5,"x":55.7,"t":4.15},{"row":5,"x":62,"t":4.56},{"row":5,"x":68.3,"t":4.97},{"row":5,"x":87.3,"t":5},
{"row":6,"x":32.7,"t":6},{"row":6,"x":35.3,"t":5.8},{"row":6,"x":38.3,"t":6},{"row":6,"x":41.7,"t":5.97},{"row":6,"x":47.7,"t":5.5},{"row":6,"x":54,"t":5.07},{"row":6,"x":60,"t":5.55},{"row":6,"x":66.7,"t":5.9},{"row":6,"x":78.3,"t":6},
{"row":7,"x":29.3,"t":7},{"row":7,"x":32.3,"t":6.9},{"row":7,"x":35,"t":7},{"row":7,"x":39.3,"t":6.97},{"row":7,"x":47.7,"t":6.6},{"row":7,"x":56,"t":6.22},{"row":7,"x":61.7,"t":6.6},{"row":7,"x":67.3,"t":6.97},{"row":7,"x":80,"t":7},
{"row":8,"x":20.7,"t":8},{"row":8,"x":38.3,"t":7.97},{"row":8,"x":47,"t":7.64},{"row":8,"x":55.3,"t":7.3},{"row":8,"x":62.7,"t":7.64},{"row":8,"x":70,"t":7.97},{"row":8,"x":79,"t":8},
{"row":9,"x":43.3,"t":9},{"row":9,"x":45,"t":7.6},{"row":9,"x":46.3,"t":7.6},{"row":9,"x":48,"t":9},{"row":9,"x":50,"t":8.9},{"row":9,"x":53.3,"t":7.95},{"row":9,"x":57.7,"t":8.6},{"row":9,"x":63.3,"t":8.82},{"row":9,"x":71.7,"t":8.88},{"row":9,"x":77.3,"t":9},
{"row":10,"x":32.7,"t":10},{"row":10,"x":35.3,"t":9.8},{"row":10,"x":38.3,"t":10},{"row":10,"x":41.7,"t":9.95},{"row":10,"x":49.3,"t":9.55},{"row":10,"x":56.7,"t":9.18},{"row":10,"x":62.3,"t":9.6},{"row":10,"x":67.3,"t":9.97},{"row":10,"x":72.7,"t":10},
{"row":11,"x":29.3,"t":11},{"row":11,"x":38.3,"t":10.97},{"row":11,"x":47.2,"t":10.6},{"row":11,"x":56.7,"t":10.25},{"row":11,"x":62,"t":10.6},{"row":11,"x":67.3,"t":10.97},{"row":11,"x":76.7,"t":11},
{"row":12,"x":29.3,"t":12},{"row":12,"x":31.7,"t":11.88},{"row":12,"x":35,"t":12},{"row":12,"x":40,"t":11.95},{"row":12,"x":47.3,"t":11.55},{"row":12,"x":55,"t":11.15},{"row":12,"x":60.7,"t":11.55},{"row":12,"x":66.7,"t":11.97},{"row":12,"x":81.7,"t":12},
{"row":13,"x":30.7,"t":13},{"row":13,"x":33.3,"t":12.82},{"row":13,"x":36,"t":13},{"row":13,"x":41.7,"t":12.95},{"row":13,"x":48.3,"t":12.5},{"row":13,"x":55.3,"t":12.1},{"row":13,"x":61.7,"t":12.55},{"row":13,"x":68.3,"t":12.97},{"row":13,"x":83.3,"t":13},
{"row":14,"x":40,"t":14},{"row":14,"x":42.7,"t":13.25},{"row":14,"x":44.7,"t":13.25},{"row":14,"x":46.7,"t":13.97},{"row":14,"x":49,"t":13.8},{"row":14,"x":55.7,"t":13.25},{"row":14,"x":61.7,"t":13.6},{"row":14,"x":68.3,"t":13.97},{"row":14,"x":81.7,"t":14},
{"row":15,"x":21.7,"t":15},{"row":15,"x":38.3,"t":14.97},{"row":15,"x":46.7,"t":14.63},{"row":15,"x":55,"t":14.28},{"row":15,"x":61.7,"t":14.63},{"row":15,"x":68.3,"t":14.97},{"row":15,"x":85.7,"t":15},
{"row":16,"x":26.7,"t":16},{"row":16,"x":38.3,"t":15.97},{"row":16,"x":47.2,"t":15.58},{"row":16,"x":56,"t":15.2},{"row":16,"x":62.2,"t":15.58},{"row":16,"x":68.3,"t":15.97},{"row":16,"x":78.7,"t":16},
{"row":17,"x":20.7,"t":17},{"row":17,"x":38.3,"t":16.97},{"row":17,"x":46.7,"t":16.6},{"row":17,"x":55,"t":16.22},{"row":17,"x":61.7,"t":16.6},{"row":17,"x":68.3,"t":16.97},{"row":17,"x":78.7,"t":17},
{"row":18,"x":4,"t":18},{"row":18,"x":36.7,"t":17.97},{"row":18,"x":46.2,"t":17.58},{"row":18,"x":55.7,"t":17.2},{"row":18,"x":62,"t":17.58},{"row":18,"x":68.3,"t":17.97},{"row":18,"x":88.3,"t":18},
{"row":19,"x":21.7,"t":19},{"row":19,"x":40,"t":18.97},{"row":19,"x":47.5,"t":18.58},{"row":19,"x":55,"t":18.2},{"row":19,"x":61.7,"t":18.58},{"row":19,"x":68.3,"t":18.97},{"row":19,"x":86.7,"t":19},
{"row":20,"x":28.3,"t":20},{"row":20,"x":36.7,"t":19.97},{"row":20,"x":46.7,"t":19.58},{"row":20,"x":56.7,"t":19.2},{"row":20,"x":62.5,"t":19.58},{"row":20,"x":68.3,"t":19.97},{"row":20,"x":77.3,"t":20},
{"row":21,"x":12.3,"t":21},{"row":21,"x":38.3,"t":20.97},{"row":21,"x":47,"t":20.6},{"row":21,"x":55.7,"t":20.25},{"row":21,"x":62,"t":20.6},{"row":21,"x":68.3,"t":20.97},{"row":21,"x":78.7,"t":21},
{"row":22,"x":23.3,"t":22},{"row":22,"x":38.3,"t":21.97},{"row":22,"x":46.7,"t":21.65},{"row":22,"x":55,"t":21.32},{"row":22,"x":63,"t":21.65},{"row":22,"x":70,"t":21.97},{"row":22,"x":83.3,"t":22},
{"row":23,"x":24.3,"t":23},{"row":23,"x":36.7,"t":22.97},{"row":23,"x":47,"t":22.6},{"row":23,"x":57.3,"t":22.25},{"row":23,"x":63,"t":22.6},{"row":23,"x":68.3,"t":22.97},{"row":23,"x":77.3,"t":23},
{"row":24,"x":31.7,"t":24},{"row":24,"x":34,"t":23.75},{"row":24,"x":36.7,"t":24},{"row":24,"x":41.7,"t":23.95},{"row":24,"x":48.3,"t":23.5},{"row":24,"x":55,"t":23.15},{"row":24,"x":61.7,"t":23.55},{"row":24,"x":68.3,"t":23.97},{"row":24,"x":81.7,"t":24},
{"row":25,"x":24.3,"t":25},{"row":25,"x":40,"t":24.97},{"row":25,"x":47,"t":24.6},{"row":25,"x":54,"t":24.22},{"row":25,"x":61,"t":24.6},{"row":25,"x":68.3,"t":24.97},{"row":25,"x":91.7,"t":25},
{"row":26,"x":20.7,"t":26},{"row":26,"x":38.3,"t":25.97},{"row":26,"x":46.7,"t":25.6},{"row":26,"x":55,"t":25.25},{"row":26,"x":61.7,"t":25.6},{"row":26,"x":68.3,"t":25.97},{"row":26,"x":85.7,"t":26},
{"row":27,"x":22.3,"t":27},{"row":27,"x":38.3,"t":26.97},{"row":27,"x":45.7,"t":26.65},{"row":27,"x":53.3,"t":26.32},{"row":27,"x":58.3,"t":26.34},{"row":27,"x":63,"t":26.65},{"row":27,"x":68.3,"t":26.97},{"row":27,"x":76.7,"t":27}]},
"mark":{"type":"area","orient":"vertical","interpolate":"monotone","fill":"#E65CD4","stroke":"#333","strokeWidth":1.2},
"encoding":{"x":{"field":"x","type":"quantitative","scale":{"domain":[-30,95],"nice":false},"axis":null},"y":{"field":"row","type":"quantitative","stack":null,"scale":{"domain":[27,0],"nice":false},"axis":null},"y2":{"field":"t"},"detail":{"field":"row"}}},
{"data":{"values":[{"gene":"BTNL8","y":0.5,"sig":"**"},{"gene":"CD226","y":1.5,"sig":"*"},{"gene":"CD27","y":2.5,"sig":"****"},{"gene":"CD28","y":3.5,"sig":"ns"},{"gene":"CD58","y":4.5,"sig":"****"},{"gene":"CD70","y":5.5,"sig":"****"},{"gene":"CD80","y":6.5,"sig":"****"},{"gene":"CD86","y":7.5,"sig":"ns"},{"gene":"HAVCR1","y":8.5,"sig":"ns"},{"gene":"ICOS","y":9.5,"sig":"****"},{"gene":"ICOSLG","y":10.5,"sig":"ns"},{"gene":"SLAMF1","y":11.5,"sig":"****"},{"gene":"TMIGD2","y":12.5,"sig":"ns"},{"gene":"TNFRSF13B","y":13.5,"sig":"**"},{"gene":"TNFRSF13C","y":14.5,"sig":"****"},{"gene":"TNFRSF14","y":15.5,"sig":"****"},{"gene":"TNFRSF18","y":16.5,"sig":"****"},{"gene":"TNFRSF4","y":17.5,"sig":"***"},{"gene":"TNFRSF8","y":18.5,"sig":"**"},{"gene":"TNFRSF9","y":19.5,"sig":"****"},{"gene":"TNFSF13","y":20.5,"sig":"ns"},{"gene":"TNFSF13B","y":21.5,"sig":"***"},{"gene":"TNFSF15","y":22.5,"sig":"***"},{"gene":"TNFSF18","y":23.5,"sig":"****"},{"gene":"TNFSF4","y":24.5,"sig":"ns"},{"gene":"TNFSF8","y":25.5,"sig":"**"},{"gene":"TNFSF9","y":26.5,"sig":"****"}]},
"mark":{"type":"text","align":"left","baseline":"middle","fontSize":18,"color":"#222"},"encoding":{"x":{"datum":-28},"y":{"field":"y","type":"quantitative"},"text":{"field":"sig"}}}
]}
],"columns":2,"bounds":"flush","spacing":{"column":3,"row":22.8}}
]}
